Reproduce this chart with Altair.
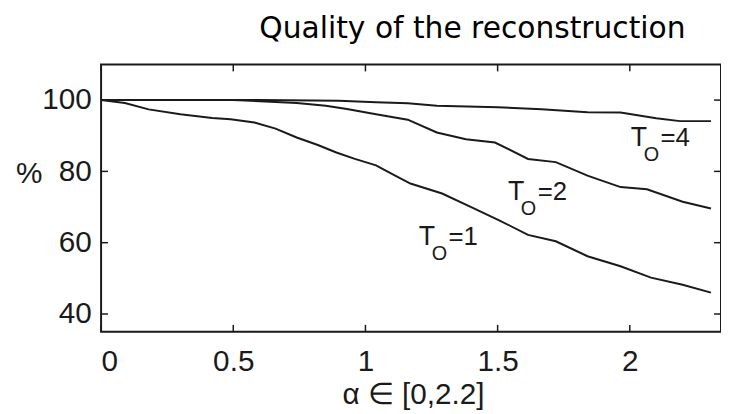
import altair as alt
import pandas as pd

# ---- data ----
t1_alpha = [0.0, 0.09, 0.18, 0.30, 0.42, 0.49, 0.58, 0.66, 0.74, 0.82, 0.89, 0.96, 1.04,
            1.10, 1.17, 1.29, 1.40, 1.50, 1.615, 1.72, 1.84, 1.965, 2.08, 2.20, 2.307]
t1_pct = [100, 99.2, 97.4, 96.0, 95.0, 94.6, 93.7, 92.0, 89.5, 87.4, 85.3, 83.5, 81.7,
          79.3, 76.6, 73.8, 70.0, 66.5, 62.2, 60.4, 56.2, 53.4, 50.2, 48.2, 46.0]

t2_alpha = [0.0, 0.50, 0.60, 0.74, 0.85, 0.93, 1.04, 1.16, 1.27, 1.38, 1.49, 1.615, 1.72,
            1.84, 1.965, 2.065, 2.20, 2.307]
t2_pct = [100, 100, 99.7, 99.2, 98.4, 97.5, 96.0, 94.5, 90.9, 89.0, 88.1, 83.5, 82.6,
          78.8, 75.6, 75.0, 71.5, 69.6]

t4_alpha = [0.0, 0.60, 0.90, 1.04, 1.16, 1.27, 1.50, 1.666, 1.84, 1.965, 2.10, 2.19, 2.307]
t4_pct = [100, 100, 99.8, 99.4, 99.1, 98.4, 98.0, 97.4, 96.6, 96.5, 94.9, 94.1, 94.1]

x_ticks = [0, 0.5, 1, 1.5, 2]
y_ticks = [40, 60, 80, 100]

label_num = ["=1", "=2", "=4"]
label_alpha = [1.202, 1.539, 2.004]
label_pct = [59.4, 71.9, 87.2]

title_text = "Quality of the reconstruction"

X_DOMAIN = [0, 2.345]
Y_DOMAIN = [35, 110]
W, H = 626, 270

rows = []
for name, xs, ys in [("1", t1_alpha, t1_pct), ("2", t2_alpha, t2_pct), ("4", t4_alpha, t4_pct)]:
    for a, p in zip(xs, ys):
        rows.append({"series": name, "alpha": a, "pct": p})
lines_df = pd.DataFrame(rows)
xt_df = pd.DataFrame({"alpha": x_ticks})
yt_df = pd.DataFrame({"pct": y_ticks})
lab_df = pd.DataFrame({"alpha": label_alpha, "pct": label_pct, "num": label_num})
title_df = pd.DataFrame({"t": [title_text]})

FONT = "Liberation Sans"
INK = "#1a1a1a"

xscale = alt.Scale(domain=X_DOMAIN, nice=False, zero=False)
yscale = alt.Scale(domain=Y_DOMAIN, nice=False, zero=False)

lines = alt.Chart(lines_df).mark_line(color=INK, strokeWidth=2).encode(
    x=alt.X("alpha:Q", scale=xscale,
            axis=alt.Axis(values=x_ticks, title="α ∈ [0,2.2]", format="~g",
                          labelPadding=39, labelBaseline="alphabetic",
                          titleX=315, titleY=72, titleBaseline="alphabetic",
                          titleFontSize=30)),
    y=alt.Y("pct:Q", scale=yscale,
            axis=alt.Axis(values=y_ticks, title="%", labelPadding=10,
                          labelBaseline="middle", titleAngle=0, titleX=-73, titleY=110,
                          titleBaseline="middle", titleAlign="center", titleFontSize=30)),
    detail="series:N",
)

tick_len = 7
xt_bottom = alt.Chart(xt_df).mark_rule(color=INK, strokeWidth=1.5).encode(
    x=alt.X("alpha:Q", scale=xscale), y=alt.value(H), y2=alt.value(H - tick_len))
xt_top = alt.Chart(xt_df).mark_rule(color=INK, strokeWidth=1.5).encode(
    x=alt.X("alpha:Q", scale=xscale), y=alt.value(0), y2=alt.value(tick_len))
yt_left = alt.Chart(yt_df).mark_rule(color=INK, strokeWidth=1.5).encode(
    y=alt.Y("pct:Q", scale=yscale), x=alt.value(0), x2=alt.value(tick_len))
yt_right = alt.Chart(yt_df).mark_rule(color=INK, strokeWidth=1.5).encode(
    y=alt.Y("pct:Q", scale=yscale), x=alt.value(W), x2=alt.value(W - tick_len))

lab_base = alt.Chart(lab_df).encode(
    x=alt.X("alpha:Q", scale=xscale), y=alt.Y("pct:Q", scale=yscale))
lab_T = lab_base.mark_text(font=FONT, fontSize=27, align="left", baseline="alphabetic",
                           color=INK).encode(text=alt.value("T"))
lab_O = lab_base.mark_text(font=FONT, fontSize=20, align="left", baseline="alphabetic",
                           color=INK, dx=13, dy=15).encode(text=alt.value("O"))
lab_eq = lab_base.mark_text(font=FONT, fontSize=26, align="left", baseline="alphabetic",
                            color=INK, dx=30).encode(text="num:N")

title_mark = alt.Chart(title_df).mark_text(
    font="DejaVu Sans", fontSize=30, align="center", baseline="alphabetic", color="#000"
).encode(text="t:N", x=alt.value(375), y=alt.value(-27))

chart = alt.layer(lines, xt_bottom, xt_top, yt_left, yt_right, lab_T, lab_O, lab_eq,
                  title_mark).properties(
    width=W, height=H,
    autosize=alt.AutoSizeParams(type="none"),
    padding={"left": 94, "top": 55, "right": 0, "bottom": 81},
).configure_view(
    stroke=INK, strokeWidth=2
).configure_axis(
    domain=False, ticks=False, tickSize=0, grid=False,
    labelFont=FONT, labelFontSize=30, labelColor=INK,
    titleFont=FONT, titleFontWeight="normal", titleColor=INK,
)

chart.save("out.html", embed_options={"renderer": "svg", "actions": False})
